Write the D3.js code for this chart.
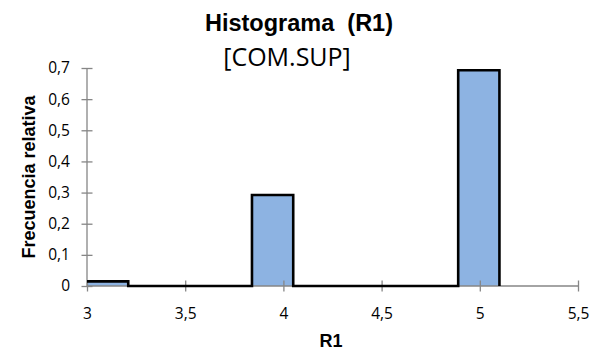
<!DOCTYPE html>
<html>
<head>
<meta charset="utf-8">
<script src="https://cdn.jsdelivr.net/npm/d3@7"></script>
<style>
  html, body { margin: 0; padding: 0; background: #fff; }
  svg { display: block; }
</style>
</head>
<body>
<svg id="chart" width="600" height="354"></svg>
<script>
// Class boundaries (bin width 0.21) and relative frequency per class
const binEdges = [3, 3.21, 3.42, 3.63, 3.84, 4.05, 4.26, 4.47, 4.68, 4.89, 5.1];
const relFreq  = [0.015, 0, 0, 0, 0.292, 0, 0, 0, 0, 0.693];
const xTicks = [3, 3.5, 4, 4.5, 5, 5.5];
const yTicks = [0, 0.1, 0.2, 0.3, 0.4, 0.5, 0.6, 0.7];

const svg = d3.select("#chart");
const margin = { left: 87, right: 22, top: 68, bottom: 68 };
const W = 600, H = 354;

const x = d3.scaleLinear().domain([3, 5.5]).range([margin.left, W - margin.right]);
const y = d3.scaleLinear().domain([0, 0.7]).range([H - margin.bottom, margin.top]);

const fmt = d => d3.format("")(d).replace(".", ",");
const axisColor = "#868686";
const tickFont = "'Open Sans', 'Noto Sans', sans-serif";
const boldFont = "'Liberation Sans', Arial, sans-serif";

// Step outline points: each class gives its left and right edge at its height
const pts = [];
relFreq.forEach((v, i) => {
  pts.push([binEdges[i], v]);
  pts.push([binEdges[i + 1], v]);
});
pts.push([binEdges[binEdges.length - 1], 0]);

// Filled bars
svg.append("g").selectAll("rect")
  .data(relFreq.map((v, i) => ({ x0: binEdges[i], x1: binEdges[i + 1], v })).filter(d => d.v > 0))
  .join("rect")
  .attr("x", d => x(d.x0))
  .attr("y", d => y(d.v))
  .attr("width", d => x(d.x1) - x(d.x0))
  .attr("height", d => y(0) - y(d.v))
  .attr("fill", "#8DB3E2");

// Axes
const yAxis = svg.append("g")
  .attr("transform", `translate(${x(3)},0)`)
  .call(d3.axisLeft(y).tickValues(yTicks).tickFormat(fmt).tickSize(5).tickPadding(12));
yAxis.selectAll(".tick line").attr("x2", -5.5).attr("x1", 5.5);

const xAxis = svg.append("g")
  .attr("transform", `translate(0,${y(0)})`)
  .call(d3.axisBottom(x).tickValues(xTicks).tickFormat(fmt).tickSize(5).tickPadding(17));
xAxis.selectAll(".tick line").attr("y1", -5.5).attr("y2", 5.5);

[xAxis, yAxis].forEach(g => {
  g.select(".domain").attr("stroke", axisColor).attr("stroke-width", 1.3);
  g.selectAll(".tick line").attr("stroke", axisColor).attr("stroke-width", 1.3);
  g.selectAll(".tick text")
    .attr("fill", "#000")
    .style("font-family", tickFont)
    .style("font-size", "15.5px");
});
xAxis.select(".domain").attr("d", `M${x(3)},0H${x(5.5)}`);
yAxis.select(".domain").attr("d", `M0,${y(0)}V${y(0.7)}`);

// Step outline
svg.append("path")
  .datum(pts)
  .attr("d", d3.line().x(d => x(d[0])).y(d => y(d[1])))
  .attr("fill", "none")
  .attr("stroke", "#000")
  .attr("stroke-width", 2.6)
  .attr("stroke-linejoin", "miter");

// Titles
svg.append("text")
  .attr("x", 299).attr("y", 31)
  .attr("text-anchor", "middle")
  .style("font-family", boldFont)
  .style("font-weight", "bold")
  .style("font-size", "23.5px")
  .style("white-space", "pre")
  .text("Histograma  (R1)");

svg.append("text")
  .attr("x", 287).attr("y", 66)
  .attr("text-anchor", "middle")
  .style("font-family", tickFont)
  .style("font-size", "25px")
  .text("[COM.SUP]");

svg.append("text")
  .attr("transform", `translate(35,${(y(0) + y(0.7)) / 2}) rotate(-90)`)
  .attr("text-anchor", "middle")
  .style("font-family", boldFont)
  .style("font-weight", "bold")
  .style("font-size", "18px")
  .text("Frecuencia relativa");

svg.append("text")
  .attr("x", 331).attr("y", 347)
  .attr("text-anchor", "middle")
  .style("font-family", boldFont)
  .style("font-weight", "bold")
  .style("font-size", "18px")
  .text("R1");
</script>
</body>
</html>
